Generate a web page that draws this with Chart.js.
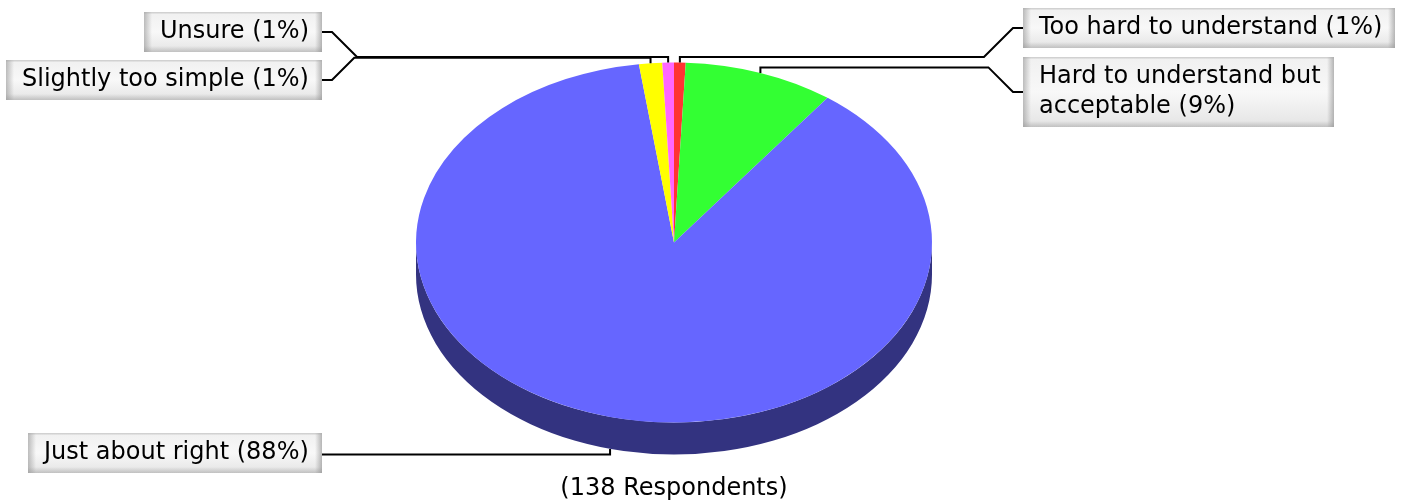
<!DOCTYPE html>
<html>
<head>
<meta charset="utf-8">
<title>Survey results</title>
<script src="https://cdn.jsdelivr.net/npm/chart.js@4/dist/chart.umd.min.js"></script>
<style>
  html, body { margin: 0; padding: 0; background: #fff; }
  #wrap { width: 1402px; height: 501px; }
</style>
</head>
<body>
<div id="wrap"><canvas id="pie" width="1402" height="501"></canvas></div>
<script>
// --- Data
const categories = ['Too hard to understand', 'Hard to understand but acceptable', 'Just about right', 'Slightly too simple', 'Unsure'];
const responses = [1, 13, 121, 2, 1];
const sliceColors = ['#ff3333', '#33ff33', '#6666ff', '#ffff00', '#ff66ff'];

const total = responses.reduce((a, b) => a + b, 0);

// --- Look of the 3D pie (screen px)
const FONT = '24px "DejaVu Sans"';
const PIE = { cx: 674, cy: 242.5, rx: 258, ry: 180, depth: 32 };

// callout boxes: which side, top of box
const callouts = [
  { side: 'right', top: 8 },
  { side: 'right', top: 57 },
  { side: 'left', top: 433 },
  { side: 'left', top: 60 },
  { side: 'left', top: 12 }
];
const LEFT_EDGE = 322;   // right edge of the left-hand boxes
const RIGHT_EDGE = 1023; // left edge of the right-hand boxes

function darker(hex) {
  const n = parseInt(hex.slice(1), 16);
  const r = (n >> 16) & 255, g = (n >> 8) & 255, b = n & 255;
  return `rgb(${Math.round(r / 2)},${Math.round(g / 2)},${Math.round(b / 2)})`;
}

function wrapLabel(text, maxChars) {
  const words = text.split(' ');
  const lines = [];
  let line = '';
  words.forEach(w => {
    const next = line ? line + ' ' + w : w;
    if (next.length > maxChars && line) { lines.push(line); line = w; }
    else line = next;
  });
  lines.push(line);
  return lines;
}

// map the library's round pie onto the tilted ellipse
function pieTransform(chart) {
  const arc = chart.getDatasetMeta(0).data[0];
  const r = arc.outerRadius;
  return { x: arc.x, y: arc.y, r, sx: PIE.rx / r, sy: PIE.ry / r };
}

const pie3d = {
  id: 'pie3d',
  beforeDatasetsDraw(chart) {
    const ctx = chart.ctx;
    const t = pieTransform(chart);
    ctx.save();
    ctx.translate(PIE.cx, PIE.cy);
    ctx.scale(t.sx, t.sy);
    ctx.translate(-t.x, -t.y);

    // side wall, only where the rim faces the viewer (lower half)
    const d = PIE.depth / t.sy;
    chart.getDatasetMeta(0).data.forEach((arc, i) => {
      for (let k = -1; k <= 1; k++) {
        const s = Math.max(arc.startAngle, 2 * Math.PI * k);
        const e = Math.min(arc.endAngle, 2 * Math.PI * k + Math.PI);
        if (e <= s) continue;
        ctx.beginPath();
        ctx.arc(t.x, t.y, t.r, s, e);
        ctx.arc(t.x, t.y + d, t.r, e, s, true);
        ctx.closePath();
        ctx.fillStyle = darker(sliceColors[i]);
        ctx.fill();
      }
    });
  },
  afterDatasetsDraw(chart) {
    chart.ctx.restore();
  },
  afterDraw(chart) {
    const ctx = chart.ctx;
    ctx.save();
    ctx.font = FONT;
    ctx.textBaseline = 'middle';

    chart.getDatasetMeta(0).data.forEach((arc, i) => {
      const pct = Math.round(responses[i] / total * 100);
      const lines = wrapLabel(`${categories[i]} (${pct}%)`, 28);
      const textW = Math.max(...lines.map(l => ctx.measureText(l).width));
      const w = Math.round(textW + 29);
      const h = lines.length * 30 + 10;
      const c = callouts[i];
      const bx = c.side === 'right' ? RIGHT_EDGE : LEFT_EDGE - w;
      const boxMid = c.top + h / 2;

      // anchor on the rim at the middle of the slice
      const mid = (arc.startAngle + arc.endAngle) / 2;
      const ax = PIE.cx + PIE.rx * Math.cos(mid);
      let ay = PIE.cy + PIE.ry * Math.sin(mid);
      const lower = Math.sin(mid) > 0;
      if (lower) ay += PIE.depth;
      const row = lower ? ay + 5.5 : ay - 5.5;

      // leader line
      ctx.beginPath();
      ctx.moveTo(ax, ay);
      ctx.lineTo(ax, row);
      const dy = Math.abs(boxMid - row);
      if (dy < 4) {
        ctx.lineTo(c.side === 'right' ? RIGHT_EDGE : LEFT_EDGE, row);
      } else if (c.side === 'right') {
        ctx.lineTo(RIGHT_EDGE - 10 - dy, row);
        ctx.lineTo(RIGHT_EDGE - 10, boxMid);
        ctx.lineTo(RIGHT_EDGE, boxMid);
      } else {
        ctx.lineTo(LEFT_EDGE + 10 + dy, row);
        ctx.lineTo(LEFT_EDGE + 10, boxMid);
        ctx.lineTo(LEFT_EDGE, boxMid);
      }
      ctx.strokeStyle = '#000';
      ctx.lineWidth = 2;
      ctx.stroke();

      drawBox(ctx, bx, c.top, w, h);
      ctx.fillStyle = '#000';
      lines.forEach((l, j) => ctx.fillText(l, bx + 16, c.top + 20 + 30 * j));
    });
    ctx.restore();
  }
};

// grey bevelled label box
function drawBox(ctx, x, y, w, h) {
  let g = ctx.createLinearGradient(0, y, 0, y + h);
  g.addColorStop(0, '#f0f0f0');
  g.addColorStop(0.5, '#f8f8f8');
  g.addColorStop(1, '#e4e4e4');
  ctx.fillStyle = g;
  ctx.fillRect(x, y, w, h);
  g = ctx.createLinearGradient(x, 0, x + 8, 0);
  g.addColorStop(0, 'rgba(140,140,140,0.55)');
  g.addColorStop(1, 'rgba(140,140,140,0)');
  ctx.fillStyle = g;
  ctx.fillRect(x, y, 8, h);
  g = ctx.createLinearGradient(x + w - 7, 0, x + w, 0);
  g.addColorStop(0, 'rgba(130,130,130,0)');
  g.addColorStop(1, 'rgba(130,130,130,0.55)');
  ctx.fillStyle = g;
  ctx.fillRect(x + w - 7, y, 7, h);
  g = ctx.createLinearGradient(0, y + h - 6, 0, y + h);
  g.addColorStop(0, 'rgba(150,150,150,0)');
  g.addColorStop(1, 'rgba(150,150,150,0.45)');
  ctx.fillStyle = g;
  ctx.fillRect(x, y + h - 6, w, 6);
  ctx.fillStyle = 'rgba(170,170,170,0.45)';
  ctx.fillRect(x, y, w, 1.5);
}

new Chart(document.getElementById('pie'), {
  type: 'pie',
  data: {
    labels: categories,
    datasets: [{
      data: responses,
      backgroundColor: sliceColors,
      borderWidth: 0,
      clip: false
    }]
  },
  options: {
    responsive: false,
    devicePixelRatio: 1,
    animation: false,
    events: [],
    layout: { padding: { left: 416, right: 470, top: 10, bottom: 0 } },
    plugins: {
      legend: { display: false },
      tooltip: { enabled: false },
      title: {
        display: true,
        position: 'bottom',
        text: `(${total} Respondents)`,
        color: '#000',
        font: { family: 'DejaVu Sans', size: 24, weight: 'normal', lineHeight: 1 },
        padding: { top: 0, bottom: 0 }
      }
    }
  },
  plugins: [pie3d]
});
</script>
</body>
</html>
